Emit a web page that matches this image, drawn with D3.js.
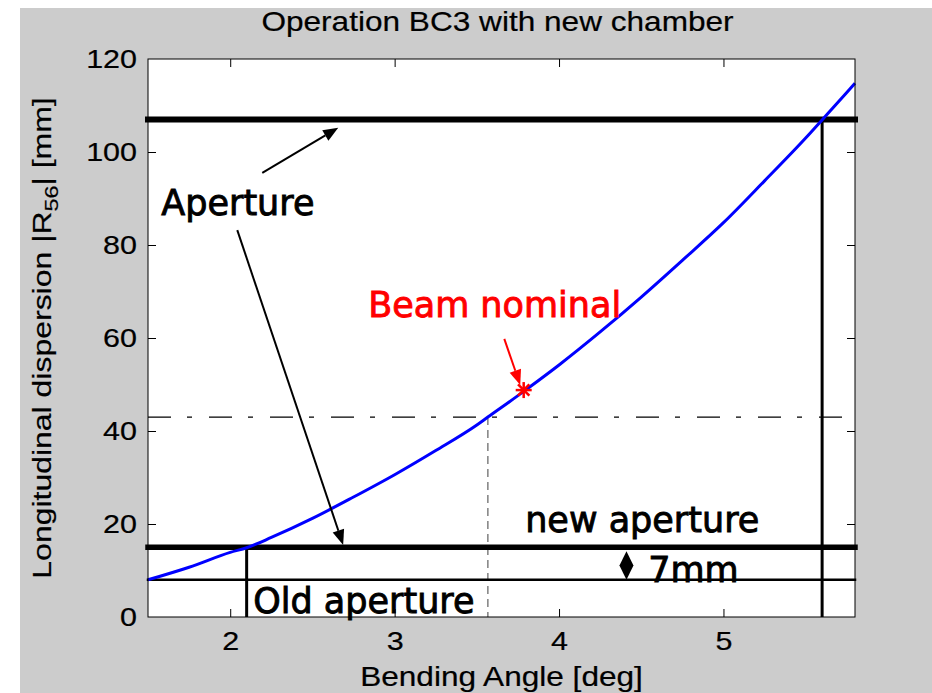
<!DOCTYPE html>
<html>
<head>
<meta charset="utf-8">
<script src="https://cdn.jsdelivr.net/npm/d3@7"></script>
<style>
  body { margin: 0; background: #fff; }
  svg { display: block; }
</style>
</head>
<body>
<div id="chart"></div>
<script>
"use strict";

// Bending angle [deg] vs |R56| [mm]
const angles = [1.5, 1.75, 2.0, 2.1, 2.25, 2.5, 2.75, 3.0, 3.25, 3.5, 3.567, 3.75, 3.8, 4.0, 4.25, 4.5, 4.75, 5.0, 5.25, 5.5, 5.6, 5.75, 5.8];
const r56 = [8.0, 10.7, 13.9, 14.9, 17.1, 21.2, 25.8, 30.6, 35.8, 41.3, 43.0, 47.6, 48.9, 54.2, 61.3, 68.8, 76.7, 84.8, 93.8, 103.0, 106.9, 112.8, 114.8];

const xTicks = [2, 3, 4, 5];
const yTicks = [0, 20, 40, 60, 80, 100, 120];

const beamNominal = [3.785, 48.8];
const upperAperture = 107;
const upperAngle = 5.6;
const newAperture = 15;
const oldAperture = 8;
const newApertureAngle = 2.1;
const crossLevel = 43;
const crossAngle = 3.567;
const gapMarkerAngle = 4.41;

// arrows, [angle, r56] tail -> head
const blackArrowTails = [[2.195, 95.5], [2.043, 83.2]];
const blackArrowHeads = [[2.657, 105.2], [2.687, 15.5]];
const redArrowTail = [3.667, 59.8];
const redArrowHead = [3.764, 49.9];

const labelTexts = ["Aperture", "Beam nominal", "new aperture", "Old aperture", "7mm"];
const labelAnchors = [[1.581, 86.5], [2.839, 64.5], [3.794, 18.3], [2.14, 0.86], [4.542, 7.5]];

const TEXT_FONT = "'Liberation Sans', Arial, Helvetica, sans-serif";

function _main() {
  const W = 932;
  const H = 693;
  const svg = d3.select("#chart").append("svg").attr("width", W).attr("height", H);

  // MATLAB grey figure, with a thin white margin top-left
  svg.append("rect").attr("width", W).attr("height", H).attr("fill", "#fff");
  svg.append("rect").attr("x", 20).attr("y", 8).attr("width", W - 20).attr("height", H - 8).attr("fill", "#cccccc");

  const xScale = d3.scaleLinear().domain([1.5, 5.8]).range([148, 855]);
  const yScale = d3.scaleLinear().domain([0, 120]).range([617, 59]);

  svg.append("rect")
    .attr("x", xScale(1.5)).attr("y", yScale(120))
    .attr("width", xScale(5.8) - xScale(1.5)).attr("height", yScale(0) - yScale(120))
    .attr("fill", "#fff");

  addGuides(svg, xScale, yScale);
  addCurve(svg, xScale, yScale);
  addAxes(svg, xScale, yScale);
  addAnnotations(svg, xScale, yScale);
}

function hLine(svg, xScale, yScale, y, x0, x1) {
  return svg.append("line")
    .attr("x1", xScale(x0)).attr("x2", xScale(x1))
    .attr("y1", yScale(y)).attr("y2", yScale(y));
}

function vLine(svg, xScale, yScale, x, y0, y1) {
  return svg.append("line")
    .attr("x1", xScale(x)).attr("x2", xScale(x))
    .attr("y1", yScale(y0)).attr("y2", yScale(y1));
}

function addGuides(svg, xScale, yScale) {
  const [xmin, xmax] = xScale.domain();

  // dash-dot level and grey dashed drop line
  hLine(svg, xScale, yScale, crossLevel, xmin, xmax)
    .attr("stroke", "#000").attr("stroke-width", 1.3).attr("stroke-dasharray", "23,16,5,17");
  vLine(svg, xScale, yScale, crossAngle, crossLevel, 0)
    .attr("stroke", "#808080").attr("stroke-width", 1.5).attr("stroke-dasharray", "8,5");

  // apertures
  hLine(svg, xScale, yScale, upperAperture, xmin, xmax)
    .attr("stroke", "#000").attr("stroke-width", 6).attr("stroke-linecap", "square");
  vLine(svg, xScale, yScale, upperAngle, upperAperture, 0)
    .attr("stroke", "#000").attr("stroke-width", 3);

  hLine(svg, xScale, yScale, newAperture, xmin, xmax)
    .attr("stroke", "#000").attr("stroke-width", 5.5).attr("stroke-linecap", "square");
  hLine(svg, xScale, yScale, oldAperture, xmin, xmax)
    .attr("stroke", "#000").attr("stroke-width", 2.5).attr("stroke-linecap", "square");
  vLine(svg, xScale, yScale, newApertureAngle, newAperture, 0)
    .attr("stroke", "#000").attr("stroke-width", 3);
}

function addCurve(svg, xScale, yScale) {
  const data = angles.map((a, i) => ({ x: a, y: r56[i] }));
  const lineGenerator = d3.line()
    .curve(d3.curveMonotoneX)
    .x((d) => xScale(d.x))
    .y((d) => yScale(d.y));
  svg.append("path")
    .datum(data)
    .attr("d", lineGenerator)
    .attr("fill", "none")
    .attr("stroke", "#0000ff")
    .attr("stroke-width", 3)
    .attr("stroke-linejoin", "round");

  // beam nominal asterisk
  const cx = xScale(beamNominal[0]);
  const cy = yScale(beamNominal[1]);
  const r = 8;
  const star = svg.append("g").attr("stroke", "#ff0000").attr("stroke-width", 2.5);
  [0, 45, 90, 135].forEach((deg) => {
    const t = (deg * Math.PI) / 180;
    star.append("line")
      .attr("x1", cx - r * Math.cos(t)).attr("y1", cy - r * Math.sin(t))
      .attr("x2", cx + r * Math.cos(t)).attr("y2", cy + r * Math.sin(t));
  });
}

function matlabText(sel, size) {
  return sel
    .attr("font-family", TEXT_FONT)
    .attr("font-size", size)
    .attr("fill", "#000")
    .attr("stroke", "#000")
    .attr("stroke-width", 0.2);
}

function addAxes(svg, xScale, yScale) {
  const top = yScale.range()[1];
  const bottom = yScale.range()[0];
  const left = xScale.range()[0];
  const right = xScale.range()[1];
  const TICK_K = 1.22;
  const LABEL_K = 1.17;

  // bottom x axis, ticks pointing inside
  const xAxis = svg.append("g")
    .attr("transform", `translate(0, ${bottom})`)
    .call(d3.axisBottom(xScale).tickValues(xTicks).tickSizeInner(-8).tickSizeOuter(0).tickPadding(15).tickFormat(d3.format("d")));
  // left y axis
  const yAxis = svg.append("g")
    .attr("transform", `translate(${left}, 0)`)
    .call(d3.axisLeft(yScale).tickValues(yTicks).tickSizeInner(-8).tickSizeOuter(0).tickPadding(11 / TICK_K).tickFormat(d3.format("d")));
  // top and right, ticks only
  svg.append("g")
    .attr("transform", `translate(0, ${top})`)
    .call(d3.axisTop(xScale).tickValues(xTicks).tickSizeInner(-8).tickSizeOuter(0).tickFormat(""));
  svg.append("g")
    .attr("transform", `translate(${right}, 0)`)
    .call(d3.axisRight(yScale).tickValues(yTicks.slice(1, -1)).tickSizeInner(-8).tickSizeOuter(0).tickFormat(""));

  svg.selectAll(".domain").remove();
  svg.selectAll(".tick line").attr("stroke", "#000").attr("stroke-width", 1);

  [xAxis, yAxis].forEach((ax) => {
    matlabText(ax.selectAll("text"), 25).attr("transform", `scale(${TICK_K},1)`);
  });
  // 0 and 120 sit on the frame corners
  yAxis.selectAll(".tick line").filter((d) => d === 0 || d === 120).remove();

  svg.append("rect")
    .attr("x", left).attr("y", top)
    .attr("width", right - left).attr("height", bottom - top)
    .attr("fill", "none").attr("stroke", "#000").attr("stroke-width", 1);

  // title and labels
  const midX = (left + right) / 2;
  matlabText(svg.append("text"), 27)
    .attr("transform", `translate(${midX - 4}, 31) scale(${LABEL_K},1)`)
    .attr("text-anchor", "middle")
    .text("Operation BC3 with new chamber");

  matlabText(svg.append("text"), 27)
    .attr("transform", `translate(${midX}, 686) scale(${LABEL_K},1)`)
    .attr("text-anchor", "middle")
    .text("Bending Angle [deg]");

  const ylab = matlabText(svg.append("text"), 26)
    .attr("transform", `translate(51, ${(top + bottom) / 2}) rotate(-90) scale(1.23,1)`)
    .attr("text-anchor", "middle");
  ylab.append("tspan").text("Longitudinal dispersion |R");
  ylab.append("tspan").attr("font-size", 19).attr("dy", 7).text("56");
  ylab.append("tspan").attr("dy", -7).text("| [mm]");
}

function addArrow(svg, xScale, yScale, from, to, color) {
  const x1 = xScale(from[0]);
  const y1 = yScale(from[1]);
  const x2 = xScale(to[0]);
  const y2 = yScale(to[1]);
  const len = 15;
  const half = 6;
  const d = Math.hypot(x2 - x1, y2 - y1);
  const ux = (x2 - x1) / d;
  const uy = (y2 - y1) / d;
  const bx = x2 - ux * len;
  const by = y2 - uy * len;
  svg.append("line")
    .attr("x1", x1).attr("y1", y1).attr("x2", bx).attr("y2", by)
    .attr("stroke", color).attr("stroke-width", 2);
  svg.append("path")
    .attr("d", `M${x2},${y2}L${bx - uy * half},${by + ux * half}L${bx + uy * half},${by - ux * half}Z`)
    .attr("fill", color);
}

function addAnnotations(svg, xScale, yScale) {
  blackArrowTails.forEach((tail, i) => addArrow(svg, xScale, yScale, tail, blackArrowHeads[i], "#000"));
  addArrow(svg, xScale, yScale, redArrowTail, redArrowHead, "#ff0000");

  // 7 mm gap marker (double arrow squeezed into a diamond)
  const gx = xScale(gapMarkerAngle);
  const gTop = yScale(newAperture) + 4;
  const gBot = yScale(oldAperture);
  const gMid = (gTop + gBot) / 2;
  svg.append("path")
    .attr("d", `M${gx},${gTop}L${gx + 7},${gMid}L${gx},${gBot}L${gx - 7},${gMid}Z`)
    .attr("fill", "#000");

  labelTexts.forEach((t, i) => {
    const color = t === "Beam nominal" ? "#ff0000" : "#000";
    svg.append("text")
      .attr("x", xScale(labelAnchors[i][0]))
      .attr("y", yScale(labelAnchors[i][1]))
      .attr("font-family", "'DejaVu Sans', sans-serif")
      .attr("font-size", 35)
      .attr("fill", color)
      .attr("stroke", color)
      .attr("stroke-width", 0.9)
      .text(t);
  });
}

_main();
</script>
</body>
</html>
